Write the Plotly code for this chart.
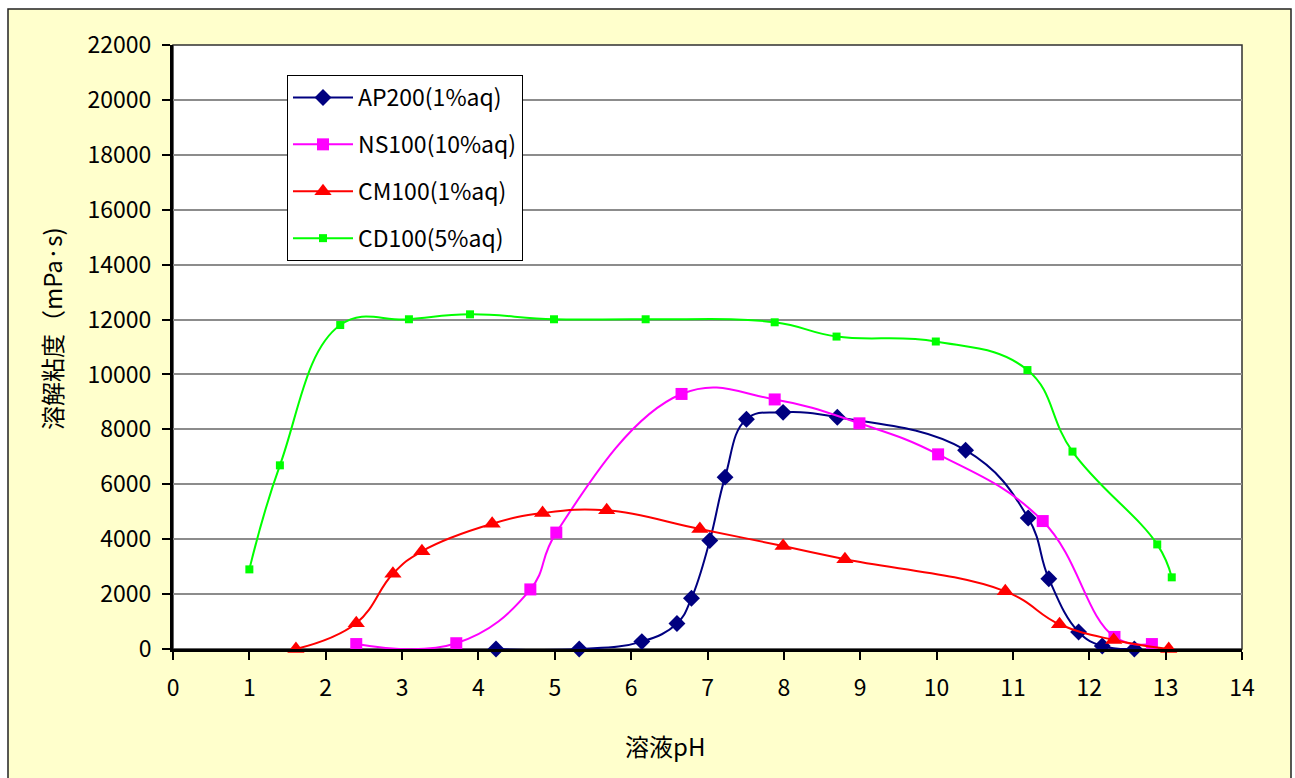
import plotly.graph_objects as go

# ---- data ----
ap200_x = [4.23, 5.32, 6.14, 6.60, 6.79, 7.03, 7.23, 7.51, 7.99, 8.70, 10.38, 11.20, 11.47, 11.86, 12.17, 12.59]
ap200_y = [0, 0, 270, 930, 1850, 3950, 6260, 8370, 8620, 8440, 7240, 4770, 2560, 620, 110, 0]

ns100_x = [2.40, 3.71, 4.68, 5.02, 6.66, 7.88, 8.99, 10.02, 11.39, 12.33, 12.82]
ns100_y = [180, 210, 2170, 4240, 9290, 9090, 8220, 7090, 4660, 440, 180]

cm100_x = [1.61, 2.40, 2.88, 3.26, 4.18, 4.84, 5.68, 6.90, 7.99, 8.80, 10.90, 11.61, 12.32, 13.04]
cm100_y = [0, 940, 2740, 3560, 4560, 4950, 5050, 4370, 3750, 3270, 2100, 900, 330, 0]

cd100_x = [1.00, 1.40, 2.19, 3.09, 3.89, 4.99, 6.19, 7.88, 8.69, 9.99, 11.19, 11.78, 12.89, 13.08]
cd100_y = [2900, 6690, 11800, 12010, 12190, 12010, 12010, 11900, 11380, 11200, 10160, 7190, 3810, 2610]

series_names = ["AP200(1%aq)", "NS100(10%aq)", "CM100(1%aq)", "CD100(5%aq)"]
x_ticks = list(range(0, 15))
y_ticks = list(range(0, 22001, 2000))
y_tick_labels = [str(v) for v in y_ticks]

x_title = "溶液pH"
y_title = "溶解粘度（mPa·s)"

FONT = "Noto Sans CJK JP"

fig = go.Figure()

styles = [
    (ap200_x, ap200_y, "#000080", "diamond", 13),
    (ns100_x, ns100_y, "#FF00FF", "square", 12),
    (cm100_x, cm100_y, "#FF0000", "triangle-up", 15),
    (cd100_x, cd100_y, "#00FF00", "square", 8),
]
for name, (xs, ys, col, sym, sz) in zip(series_names, styles):
    fig.add_trace(go.Scatter(
        x=xs, y=ys, name=name, mode="lines+markers",
        line=dict(color=col, width=2, shape="spline", smoothing=1.2),
        marker=dict(color=col, symbol=sym, size=sz, line=dict(width=0)),
        cliponaxis=False, legendgroup=name,
    ))

W, H = 1295, 778
L, R, T, B = 173, 53, 45, 129
pw, ph = W - L - R, H - T - B


def px2paper_x(px):
    return (px - L) / pw


def px2paper_y(py):
    return (H - B - py) / ph


fig.update_layout(
    width=W, height=H,
    margin=dict(l=L, r=R, t=T, b=B, pad=0),
    paper_bgcolor="white",
    plot_bgcolor="white",
    font=dict(family=FONT, size=23, color="black"),
    showlegend=True,
    legend=dict(
        x=px2paper_x(287), y=px2paper_y(75), xanchor="left", yanchor="top",
        bgcolor="white", bordercolor="black", borderwidth=1,
        font=dict(family=FONT, size=23, color="black"),
        tracegroupgap=14, itemwidth=60,
    ),
    xaxis=dict(
        range=[0, 14], tickmode="array", tickvals=x_ticks,
        showgrid=False, zeroline=False,
        showline=True, linecolor="black", linewidth=3,
        ticks="outside", ticklen=8, tickwidth=2, tickcolor="black",
        tickfont=dict(family=FONT, size=23, color="black"),
        ticklabelstandoff=8,
        fixedrange=True,
    ),
    yaxis=dict(
        range=[0, 22000], tickmode="array", tickvals=y_ticks, ticktext=y_tick_labels,
        showgrid=True, gridcolor="#8c8c8c", gridwidth=2,
        zeroline=False,
        showline=True, linecolor="black", linewidth=3,
        ticks="outside", ticklen=8, tickwidth=2, tickcolor="black",
        tickfont=dict(family=FONT, size=23, color="black"),
        ticklabelstandoff=6,
        fixedrange=True,
    ),
    shapes=[
        dict(type="rect", xref="paper", yref="paper", layer="below",
             x0=px2paper_x(8), x1=px2paper_x(1291),
             y0=px2paper_y(790), y1=px2paper_y(9),
             fillcolor="#FFFFCC", line=dict(color="#222222", width=1.5)),
        dict(type="rect", xref="paper", yref="paper", layer="below",
             x0=0, x1=1, y0=0, y1=1,
             fillcolor="white", line=dict(color="#303030", width=1.5)),
    ],
    annotations=[
        dict(text=x_title, xref="paper", yref="paper",
             x=px2paper_x(665), y=px2paper_y(746), xanchor="center", yanchor="middle",
             showarrow=False, font=dict(family=FONT, size=24, color="black")),
        dict(text=y_title, xref="paper", yref="paper", textangle=-90,
             x=px2paper_x(51), y=px2paper_y(329), xanchor="center", yanchor="middle",
             showarrow=False, font=dict(family=FONT, size=24, color="black")),
    ],
)

fig.write_html("out.html")
